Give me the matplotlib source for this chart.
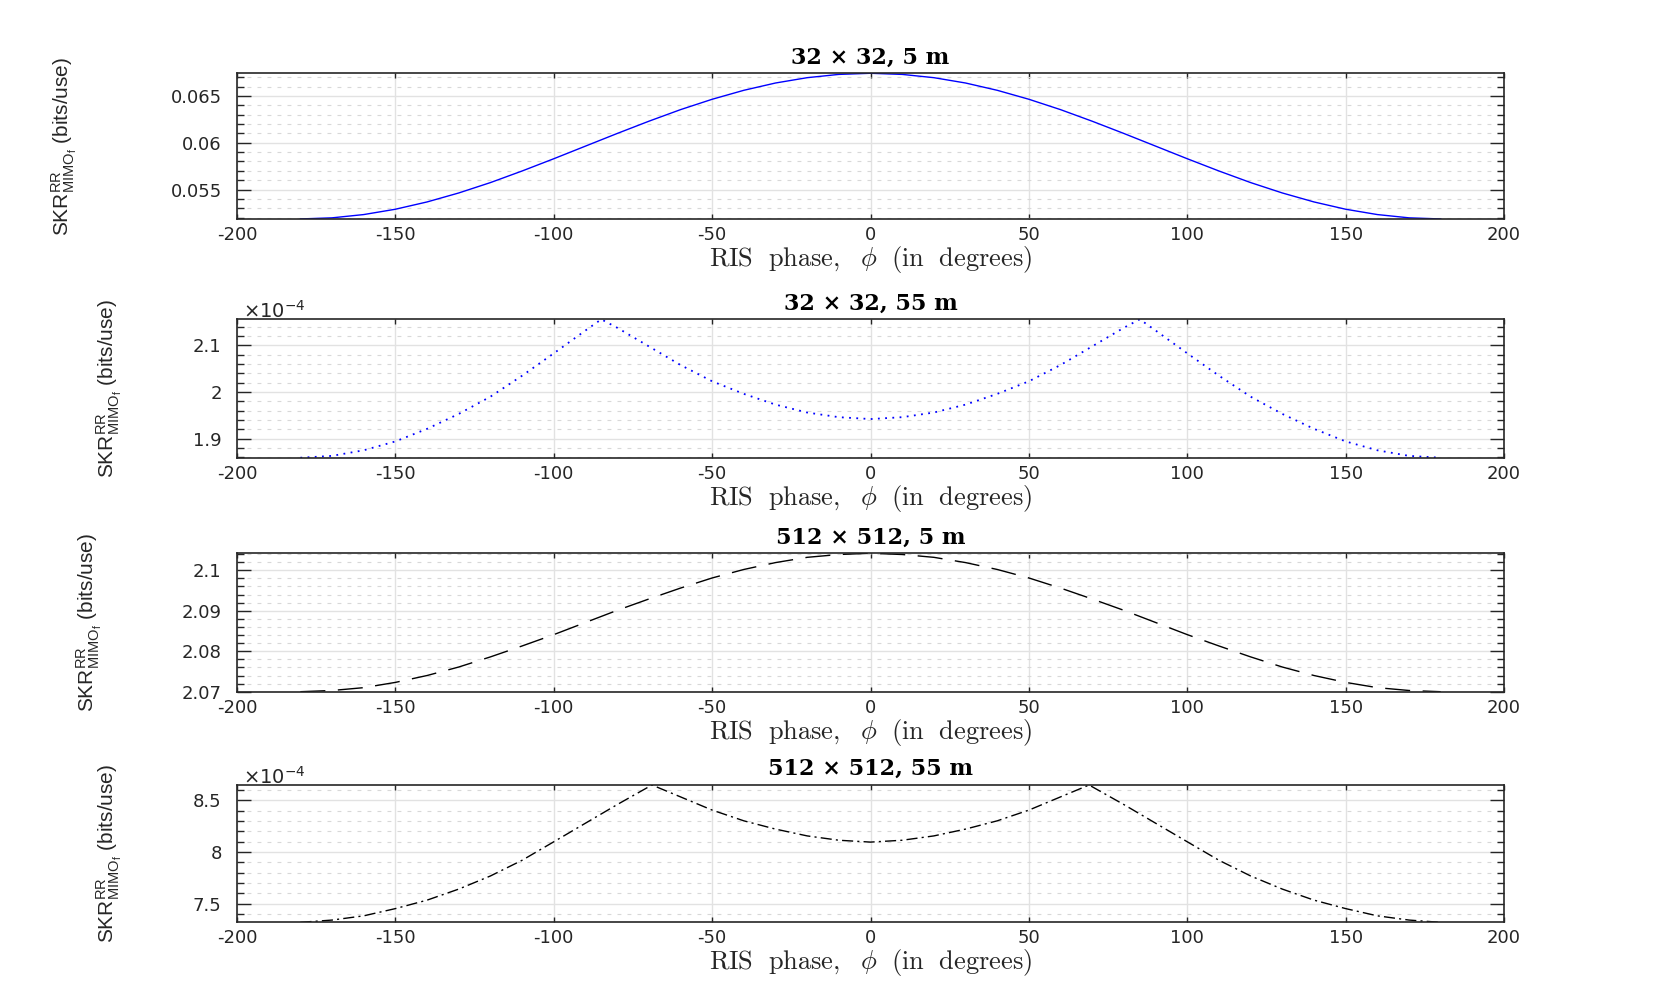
import numpy as np
import matplotlib
matplotlib.use("Agg")
import matplotlib.pyplot as plt
from matplotlib.ticker import MultipleLocator, AutoMinorLocator, FuncFormatter

# RIS phase samples (degrees)
phase = np.arange(-180, 181, 10)
phase_32_55 = [-180, -170, -160, -150, -140, -130, -120, -110, -100, -90, -85, -80, -70, -60, -50, -40, -30, -20, -10, 0,
               10, 20, 30, 40, 50, 60, 70, 80, 85, 90, 100, 110, 120, 130, 140, 150, 160, 170, 180]
phase_512_55 = [-180, -170, -160, -150, -140, -130, -120, -110, -100, -90, -80, -69, -60, -50, -40, -30, -20, -10, 0,
                10, 20, 30, 40, 50, 60, 69, 80, 90, 100, 110, 120, 130, 140, 150, 160, 170, 180]

# SKR values
skr_32_5 = [0.05185, 0.05197, 0.05232, 0.05289, 0.05367, 0.05463, 0.05574, 0.05698, 0.05829, 0.05964,
            0.06099, 0.06230, 0.06354, 0.06465, 0.06561, 0.06639, 0.06696, 0.06731, 0.06743,
            0.06731, 0.06696, 0.06639, 0.06561, 0.06465, 0.06354, 0.06230, 0.06099, 0.05964,
            0.05829, 0.05698, 0.05574, 0.05463, 0.05367, 0.05289, 0.05232, 0.05197, 0.05185]
# x 1e-4
skr_32_55 = [1.859, 1.863, 1.875, 1.894, 1.921, 1.953, 1.990, 2.035, 2.083, 2.132, 2.156, 2.138, 2.098, 2.058,
             2.023, 1.996, 1.973, 1.956, 1.946, 1.942,
             1.946, 1.956, 1.973, 1.996, 2.023, 2.058, 2.098, 2.138, 2.156, 2.132, 2.083, 2.035, 1.990,
             1.953, 1.921, 1.894, 1.875, 1.863, 1.859]
skr_512_5 = [2.0700, 2.0703, 2.0710, 2.0723, 2.0740, 2.0761, 2.0786, 2.0813, 2.0841, 2.0871,
             2.0901, 2.0929, 2.0956, 2.0981, 2.1002, 2.1019, 2.1032, 2.1039, 2.1042,
             2.1039, 2.1032, 2.1019, 2.1002, 2.0981, 2.0956, 2.0929, 2.0901, 2.0871,
             2.0841, 2.0813, 2.0786, 2.0761, 2.0740, 2.0723, 2.0710, 2.0703, 2.0700]
# x 1e-4
skr_512_55 = [7.320, 7.342, 7.383, 7.453, 7.535, 7.642, 7.769, 7.921, 8.100, 8.280, 8.460, 8.650, 8.535,
              8.407, 8.303, 8.223, 8.157, 8.115, 8.097,
              8.115, 8.157, 8.223, 8.303, 8.407, 8.535, 8.650, 8.460, 8.280, 8.100, 7.921, 7.769,
              7.642, 7.535, 7.453, 7.383, 7.342, 7.320]

titles = ["32 × 32, 5 m", "32 × 32, 55 m", "512 × 512, 5 m", "512 × 512, 55 m"]
xlabel = r"$\mathrm{RIS\ \ phase,}\ \ \phi\ \ \mathrm{(in\ \ degrees)}$"
ylabel = r"$\mathrm{SKR}^{\mathrm{RR}}_{\mathrm{MIMO}_{\mathrm{f}}}$ (bits/use)"

label_font = "Liberation Sans"
plt.rcParams["mathtext.fontset"] = "custom"
plt.rcParams["mathtext.rm"] = label_font
plt.rcParams["mathtext.it"] = label_font + ":italic"
plt.rcParams["mathtext.bf"] = label_font + ":bold"
plt.rcParams["font.family"] = "DejaVu Sans"

panels = [
    dict(x=phase, y=skr_32_5, mult=1.0, step=0.005, color="blue", ls="-", lw=1.0,
         rect=[0.1427, 0.7768, 0.7628, 0.1485], ylab_x=-0.1365),
    dict(x=phase_32_55, y=skr_32_55, mult=1e-4, step=0.1e-4, color="blue", ls=(0, (1, 3)), lw=1.3,
         rect=[0.1427, 0.5334, 0.7628, 0.1411], ylab_x=-0.101),
    dict(x=phase, y=skr_512_5, mult=1.0, step=0.01, color="black", ls=(0, (18, 9)), lw=1.0,
         rect=[0.1427, 0.2949, 0.7628, 0.1411], ylab_x=-0.1168),
    dict(x=phase_512_55, y=skr_512_55, mult=1e-4, step=0.5e-4, color="black", ls=(0, (8, 3, 1.5, 3)), lw=1.0,
         rect=[0.1427, 0.0598, 0.7628, 0.1400], ylab_x=-0.101),
]

dark = "#262626"
fig = plt.figure(figsize=(16.61, 9.81), dpi=100)

for p, title in zip(panels, titles):
    ax = fig.add_axes(p["rect"])
    y = np.array(p["y"]) * p["mult"]
    ax.plot(p["x"], y, color=p["color"], ls=p["ls"], lw=p["lw"])
    ax.set_xlim(-200, 200)
    ax.set_ylim(y.min(), y.max())

    ax.xaxis.set_major_locator(MultipleLocator(50))
    ax.yaxis.set_major_locator(MultipleLocator(p["step"]))
    ax.yaxis.set_minor_locator(AutoMinorLocator(5))
    ax.xaxis.set_major_formatter(FuncFormatter(lambda v, _: f"{v:g}"))
    ax.yaxis.set_major_formatter(FuncFormatter(lambda v, _, m=p["mult"]: f"{v / m:g}"))

    ax.set_axisbelow(True)
    ax.grid(True, which="major", color="#e2e2e2", lw=1.0, ls="-")
    ax.grid(True, which="minor", axis="y", color="#d8d8d8", lw=0.8, ls=(0, (3.5, 5.5)))

    ax.tick_params(which="both", direction="in", top=True, right=True, color=dark, width=1.0,
                   labelcolor=dark, labelsize=13)
    ax.tick_params(axis="x", which="major", length=3.6, pad=5)
    ax.tick_params(axis="y", which="major", length=10, pad=11)
    ax.tick_params(axis="y", which="minor", length=5)
    for s in ax.spines.values():
        s.set_color(dark)
        s.set_linewidth(1.2)

    ax.set_title(title, fontsize=16, pad=7, family="DejaVu Serif", fontweight="bold", color="black")
    ax.set_xlabel(xlabel, fontsize=19, labelpad=0, math_fontfamily="cm", color=dark)
    ax.set_ylabel(ylabel, fontsize=15, family=label_font, color=dark)
    ax.yaxis.set_label_coords(p["ylab_x"], 0.5)
    ax.yaxis.label.set_verticalalignment("center")

    if p["mult"] != 1.0:
        ax.text(0.005, 1.01, r"$\times10^{-4}$", transform=ax.transAxes, fontsize=14,
                math_fontfamily="dejavusans", ha="left", va="baseline", color=dark)

fig.savefig("out.png", dpi=100)
